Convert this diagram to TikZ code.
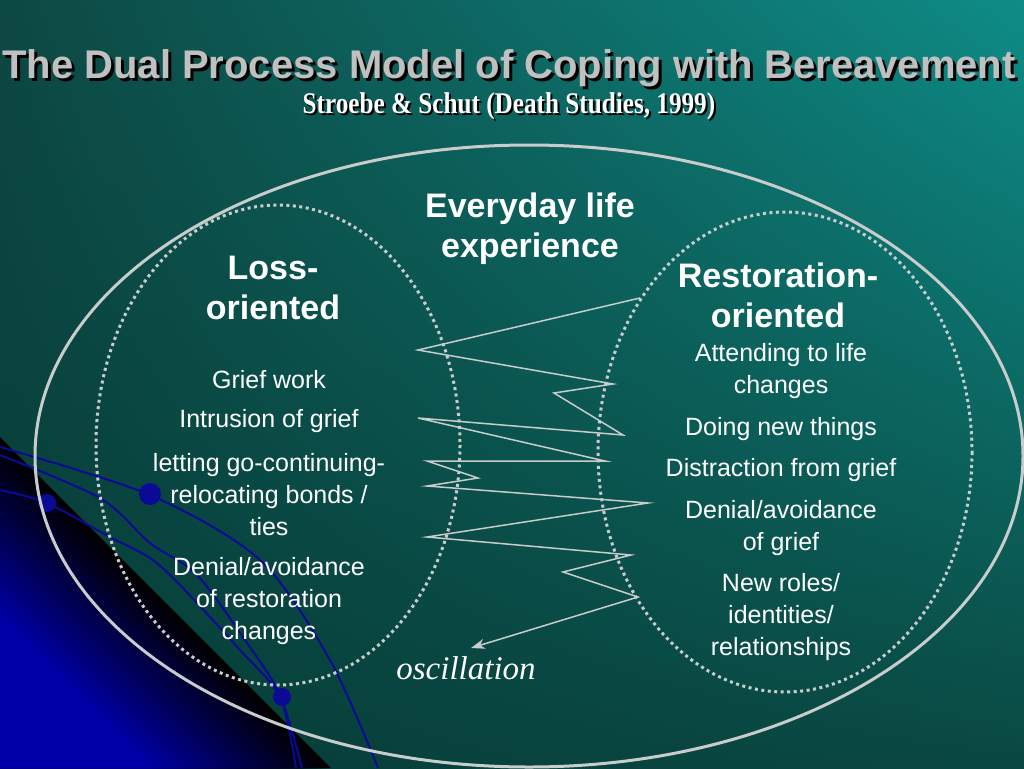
\documentclass[tikz,border=0pt]{standalone}
\usepackage{fontspec}
\setmainfont{Liberation Sans}
\newfontfamily\serifface{Liberation Serif}
\usetikzlibrary{arrows.meta,shadings}

\definecolor{bgtl}{HTML}{0D4843}
\definecolor{bgtr}{HTML}{0E8C87}
\definecolor{bgbl}{HTML}{063C37}
\definecolor{bgbr}{HTML}{0A4842}
\definecolor{cornerblue}{HTML}{0000A8}
\definecolor{curveblue}{HTML}{0A0A96}
\definecolor{ringgray}{HTML}{C8CCCC}
\definecolor{titlegray}{HTML}{C0C0C0}

\tikzset{
    heading/.style={text=white, align=center, font=\bfseries\fontsize{34}{40}\selectfont},
    entry/.style={text=white, align=center, font=\fontsize{25}{32}\selectfont},
    ring/.style={draw=ringgray, line width=3pt, dash pattern=on 3pt off 3.5pt},
    zigzag/.style={draw=ringgray, line width=1.5pt},
    bluecurve/.style={draw=curveblue, line width=2pt},
    bluedot/.style={fill=curveblue},
}

\begin{document}
\begin{tikzpicture}[x=1pt, y=-1pt]
    \useasboundingbox (0,0) rectangle (1024,768);
    % background
    \shade[upper left=bgtl, upper right=bgtr, lower left=bgbl, lower right=bgbr]
        (0,0) rectangle (1024,768);
    \foreach \k in {0,...,40}
    {
        \pgfmathsetmacro\s{331-4.5*\k}
        \pgfmathsetmacro\pct{2.5*\k}
        \fill[cornerblue!\pct!black] (0,768-\s) -- (0,768) -- (\s,768) -- cycle;
    }

    % blue corner curves
    \draw[bluecurve] plot[smooth] coordinates {(0,447) (150,495) (260,560) (330,660) (378,768)};
    \draw[bluecurve] plot[smooth] coordinates {(0,455) (100,498) (150,543) (197,575) (247,643) (280,695) (302,768)};
    \draw[bluecurve] plot[smooth] coordinates {(0,490) (47,503) (110,537) (150,558) (180,585) (240,650) (280,697) (296,768)};
    \fill[bluedot] (150,494) circle [radius=11];
    \fill[bluedot] (47,503) circle [radius=9];
    \fill[bluedot] (282,697) circle [radius=9];

    % ellipses
    \draw[draw=ringgray, line width=3pt] (529,456) ellipse [x radius=494, y radius=311];
    \draw[ring] (278,445) ellipse [x radius=182, y radius=240];
    \draw[ring] (785,452) ellipse [x radius=187, y radius=240];

    % title
    \node[text=black, font=\bfseries\fontsize{40}{46}\selectfont] (titleshade) at (512,71)
        {The Dual Process Model of Coping with Bereavement};
    \node[text=titlegray, font=\bfseries\fontsize{40}{46}\selectfont] (title) at (509,68)
        {The Dual Process Model of Coping with Bereavement};
    \node[text=black, font=\serifface\bfseries\fontsize{30}{34}\selectfont] (subshade) at (511,108)
        {\scalebox{0.84}[1]{Stroebe \& Schut (Death Studies, 1999)}};
    \node[text=white, font=\serifface\bfseries\fontsize{30}{34}\selectfont] (subtitle) at (509,106)
        {\scalebox{0.84}[1]{Stroebe \& Schut (Death Studies, 1999)}};

    % headings
    \node[heading] (everyday) at (530,229) {Everyday life\\experience};
    \node[heading] (loss) at (273,288) {Loss-\\oriented};
    \node[heading] (restoration) at (778,295) {Restoration-\\oriented};

    % entries
    \foreach \y/\txt [count=\i] in {380/Grief work, 421/Intrusion of grief,
        495/{letting go-continuing-\\relocating bonds /\\ties},
        601/{Denial/avoidance\\of restoration\\changes}}
    {
        \node[entry] (loss\i) at (269,\y) {\txt};
    }
    \foreach \y/\txt [count=\i] in {371/{Attending to life\\changes}, 429/Doing new things,
        470/Distraction from grief, 528/{Denial/avoidance\\of grief},
        617/{New roles/\\identities/\\relationships}}
    {
        \node[entry] (rest\i) at (781,\y) {\txt};
    }

    % oscillation
    \coordinate (z1) at (640,298);
    \coordinate (z2) at (418,350);
    \coordinate (z3) at (613,384);
    \coordinate (z4) at (554,393);
    \coordinate (z5) at (623,435);
    \coordinate (z6) at (418,418);
    \coordinate (z7) at (605,461);
    \coordinate (z8) at (427,461);
    \coordinate (z9) at (478,478);
    \coordinate (z10) at (427,486);
    \coordinate (z11) at (648,503);
    \coordinate (z12) at (427,537);
    \coordinate (z13) at (631,555);
    \coordinate (z14) at (563,572);
    \coordinate (z15) at (638,597);
    \coordinate (z16) at (471,648);
    \draw[zigzag, -{Stealth[length=14pt, width=10pt]}] (z1) -- (z2) -- (z3) -- (z4) -- (z5)
        -- (z6) -- (z7) -- (z8) -- (z9) -- (z10) -- (z11) -- (z12) -- (z13)
        -- (z14) -- (z15) -- (z16);
    \node[text=white, font=\serifface\itshape\fontsize{33}{38}\selectfont] (osc) at (466,668) {oscillation};
\end{tikzpicture}
\end{document}
